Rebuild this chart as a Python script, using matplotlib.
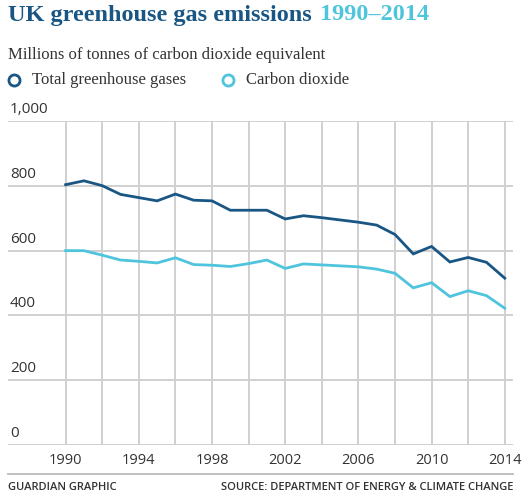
import matplotlib
matplotlib.use("Agg")
import matplotlib.pyplot as plt
from matplotlib.transforms import blended_transform_factory, offset_copy

# UK greenhouse gas emissions, million tonnes CO2 equivalent
years = list(range(1990, 2015))
total_ghg = [804, 816, 801, 774, 764, 754, 775, 756, 754, 725, 725, 725, 698,
             708, 702, 695, 688, 679, 650, 590, 613, 565, 579, 564, 515]
co2 = [600, 600, 586, 571, 567, 562, 578, 557, 555, 551, 560, 571, 545,
       559, 556, 553, 550, 543, 530, 485, 501, 458, 476, 461, 422]
y_ticks = [0, 200, 400, 600, 800, 1000]
y_labels = ["0", "200", "400", "600", "800", "1,000"]
x_labels = [1990, 1994, 1998, 2002, 2006, 2010, 2014]

dark = "#1a5684"
light = "#4fc4dd"
grid_c = "#d0d0d0"
text_c = "#333333"
sans = ["Open Sans", "DejaVu Sans"]
serif = ["Liberation Serif", "DejaVu Serif"]

W, H = 527, 500
fig = plt.figure(figsize=(W / 100, H / 100), dpi=100)
ax = fig.add_axes([8 / W, 1 - 444.7 / H, (513 - 8) / W, (444.7 - 121.3) / H])

ax.set_xlim(1986.85, 2014.45)
ax.set_ylim(0, 1000)
for s in ax.spines.values():
    s.set_visible(False)
ax.set_xticks(range(1990, 2015, 2))
ax.set_yticks(y_ticks)
ax.tick_params(length=0, labelleft=False, labelbottom=False)
ax.grid(True, color=grid_c, lw=1.4)
ax.set_axisbelow(True)

ax.plot(years, total_ghg, color=dark, lw=2, solid_joinstyle="miter")
ax.plot(years, co2, color=light, lw=2, solid_joinstyle="miter")

# y labels sit above their gridlines, at the left edge
ytr = offset_copy(blended_transform_factory(ax.transAxes, ax.transData),
                  fig=fig, x=2, y=4, units="dots")
for v, lab in zip(y_ticks, y_labels):
    ax.text(0, v, lab, transform=ytr, ha="left", va="bottom",
            fontsize=11, color=text_c, family=sans)

xtr = offset_copy(blended_transform_factory(ax.transData, ax.transAxes),
                  fig=fig, x=0, y=-16, units="dots")
for yr in x_labels:
    ax.text(yr, 0, str(yr), transform=xtr, ha="center", va="center",
            fontsize=10.5, color=text_c, family=sans)

# title in two colours
t1 = fig.text(8 / W, 1 - 15 / H, "UK greenhouse gas emissions", ha="left",
              va="center", fontsize=17.5, fontweight="bold", color=dark, family=serif)
fig.canvas.draw()
bb = t1.get_window_extent()
fig.text((bb.x1 + 8) / W, 1 - 15 / H, "1990\u20132014", ha="left", va="center",
         fontsize=17.5, fontweight="bold", color=light, family=serif)

fig.text(8 / W, 1 - 55 / H, "Millions of tonnes of carbon dioxide equivalent",
         ha="left", va="center", fontsize=12, color=text_c, family=serif)

# legend
fig.lines.append(plt.Line2D([14 / W], [1 - 80 / H], marker="o", ms=8, mfc="white",
                            mec=dark, mew=2, transform=fig.transFigure))
fig.text(32 / W, 1 - 80 / H, "Total greenhouse gases", ha="left", va="center",
         fontsize=12, color=text_c, family=serif)
fig.lines.append(plt.Line2D([228 / W], [1 - 80 / H], marker="o", ms=8, mfc="white",
                            mec=light, mew=2, transform=fig.transFigure))
fig.text(246 / W, 1 - 80 / H, "Carbon dioxide", ha="left", va="center",
         fontsize=12, color=text_c, family=serif)

# footer
fig.lines.append(plt.Line2D([8 / W, 513 / W], [1 - 474 / H, 1 - 474 / H],
                            color="#bbbbbb", lw=1.3, transform=fig.transFigure))
fig.text(8 / W, 1 - 487 / H, "GUARDIAN GRAPHIC", ha="left", va="center",
         fontsize=8, fontweight="semibold", color=text_c, family=sans)
fig.text(513 / W, 1 - 487 / H, "SOURCE: DEPARTMENT OF ENERGY & CLIMATE CHANGE",
         ha="right", va="center", fontsize=8, fontweight="semibold", color=text_c,
         family=sans)

fig.savefig("out.png", dpi=100, facecolor="white")
